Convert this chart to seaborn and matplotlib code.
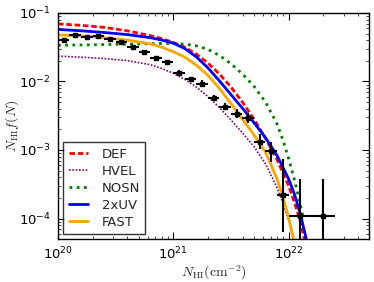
import numpy as np
import matplotlib
matplotlib.use("Agg")
import matplotlib.pyplot as plt
import seaborn as sns

# =====================================
# Data (log10 values)
# =====================================
# binned measurements
obs_logN = [20.05, 20.15, 20.25, 20.35, 20.45, 20.55, 20.65, 20.75, 20.85, 20.95, 21.05,
            21.15, 21.25, 21.35, 21.45, 21.55, 21.65, 21.75, 21.85, 21.95, 22.10, 22.30]
obs_logf = [-1.40, -1.32, -1.35, -1.34, -1.38, -1.43, -1.50, -1.57, -1.66, -1.72, -1.87,
            -1.97, -2.03, -2.24, -2.37, -2.47, -2.53, -2.88, -3.01, -3.65, -3.97, -3.97]
obs_dex_up = [0.03, 0.03, 0.03, 0.03, 0.03, 0.03, 0.03, 0.035, 0.035, 0.035, 0.035,
              0.04, 0.05, 0.05, 0.05, 0.07, 0.07, 0.12, 0.12, 0.52, 0.54, 0.54]
obs_dex_dn = [0.03, 0.03, 0.03, 0.03, 0.03, 0.03, 0.03, 0.035, 0.035, 0.035, 0.035,
              0.04, 0.05, 0.05, 0.05, 0.07, 0.07, 0.11, 0.16, 0.54, 0.80, 0.80]
obs_halfbin = [0.05] * 20 + [0.10, 0.10]

# model curves
def_logN = [20.0, 20.2, 20.4, 20.6, 20.8, 20.9, 21.0, 21.1, 21.2, 21.3, 21.4, 21.5,
            21.6, 21.7, 21.8, 21.9, 22.0, 22.05, 22.1, 22.14]
def_logf = [-1.16, -1.18, -1.21, -1.26, -1.33, -1.375, -1.43, -1.50, -1.60, -1.73, -1.89, -2.08,
            -2.30, -2.55, -2.83, -3.14, -3.52, -3.76, -4.03, -4.32]

hvel_logN = [20.0, 20.2, 20.4, 20.6, 20.8, 20.9, 21.0, 21.1, 21.2, 21.3, 21.4, 21.5,
             21.6, 21.7, 21.8, 21.9, 21.95, 22.0, 22.05]
hvel_logf = [-1.63, -1.645, -1.665, -1.695, -1.755, -1.81, -1.88, -1.97, -2.08, -2.22, -2.38, -2.56,
             -2.75, -2.95, -3.20, -3.55, -3.77, -4.02, -4.35]

nosn_logN = [20.0, 20.3, 20.6, 20.9, 21.0, 21.1, 21.2, 21.3, 21.4, 21.5, 21.6, 21.7,
             21.8, 21.9, 21.95, 22.0, 22.05, 22.1, 22.13]
nosn_logf = [-1.47, -1.465, -1.455, -1.445, -1.445, -1.455, -1.48, -1.53, -1.62, -1.74, -1.89, -2.07,
             -2.30, -2.62, -2.85, -3.12, -3.43, -3.78, -4.02]

uv2_logN = [20.0, 20.2, 20.4, 20.6, 20.8, 20.9, 21.0, 21.1, 21.2, 21.3, 21.4, 21.5,
            21.6, 21.7, 21.8, 21.9, 22.0, 22.05, 22.1, 22.15, 22.19]
uv2_logf = [-1.24, -1.26, -1.285, -1.315, -1.36, -1.395, -1.44, -1.52, -1.64, -1.80, -1.99, -2.19,
            -2.39, -2.60, -2.82, -3.08, -3.42, -3.64, -3.92, -4.27, -4.60]

fast_logN = [20.0, 20.2, 20.4, 20.6, 20.8, 20.9, 21.0, 21.1, 21.2, 21.3, 21.4, 21.5,
             21.6, 21.7, 21.8, 21.9, 21.95, 22.0, 22.05]
fast_logf = [-1.32, -1.335, -1.36, -1.395, -1.45, -1.50, -1.565, -1.645, -1.76, -1.91, -2.10, -2.32,
             -2.55, -2.78, -3.03, -3.42, -3.68, -3.98, -4.35]

# =====================================
# Style
# =====================================
sns.set_style("ticks")
plt.rcParams["mathtext.fontset"] = "cm"
plt.rcParams["font.family"] = ["DejaVu Sans"]
plt.rcParams["axes.unicode_minus"] = False
plt.rcParams["xtick.direction"] = "in"
plt.rcParams["ytick.direction"] = "in"
plt.rcParams["xtick.top"] = True
plt.rcParams["ytick.right"] = True

fig = plt.figure(figsize=(3.74, 2.82), dpi=100)
ax = fig.add_axes([0.155, 0.152, 0.832, 0.802])

models = [
    ("DEF", def_logN, def_logf, "red", (0, (2, 1)), 2.0),
    ("HVEL", hvel_logN, hvel_logf, "purple", (0, (1, 1)), 1.2),
    ("NOSN", nosn_logN, nosn_logf, "green", (0, (1, 1.6)), 2.0),
    ("2xUV", uv2_logN, uv2_logf, "blue", "-", 2.0),
    ("FAST", fast_logN, fast_logf, "orange", "-", 2.0),
]
for name, lx, ly, col, ls, lw in models:
    sns.lineplot(x=10 ** np.array(lx), y=10 ** np.array(ly), ax=ax, color=col,
                 linestyle=ls, lw=lw, label=name, sort=False, estimator=None)

# measurements with error bars
N = 10 ** np.array(obs_logN)
f = 10 ** np.array(obs_logf)
hb = np.array(obs_halfbin)
xerr = [N * (1 - 10 ** -hb), N * (10 ** hb - 1)]
yerr = [f * (1 - 10 ** -np.array(obs_dex_dn)), f * (10 ** np.array(obs_dex_up) - 1)]
ax.errorbar(N, f, xerr=xerr, yerr=yerr, fmt="s", ms=2.5, color="black",
            ecolor="black", elinewidth=1.5, capsize=0, zorder=5)

ax.set_xscale("log")
ax.set_yscale("log")
ax.set_xlim(1e20, 5e22)
ax.set_ylim(5e-5, 1e-1)

ax.tick_params(which="major", length=5, width=0.8, labelsize=9.5, colors="black", pad=5)
ax.tick_params(which="minor", length=2.5, width=0.6)
for sp in ax.spines.values():
    sp.set_color("black")
    sp.set_linewidth(1.0)

ax.set_xlabel(r"$N_{\rm HI}({\rm cm}^{-2})$", fontsize=10, labelpad=1)
ax.set_ylabel(r"$N_{\rm HI}f(N)$", fontsize=10)
ax.yaxis.set_label_coords(-0.118, 0.5)

leg = ax.legend(loc="lower left", fontsize=9.5, frameon=True, fancybox=False,
                handlelength=1.5, handletextpad=1.0, labelspacing=0.3,
                borderaxespad=0.4)
leg.get_frame().set_edgecolor("black")
leg.get_frame().set_linewidth(1.0)

plt.savefig("out.png", dpi=100)
plt.close()
